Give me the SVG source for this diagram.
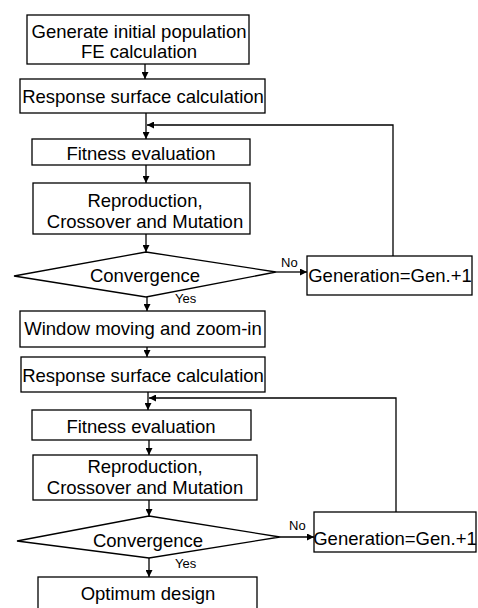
<svg xmlns="http://www.w3.org/2000/svg" width="478" height="608" viewBox="0 0 478 608">
<style>
.b{fill:#fff;stroke:#000;stroke-width:1.3}
.t{font-family:"Liberation Sans",Arial,sans-serif;font-size:18.5px;fill:#000;text-anchor:middle}
.s{font-family:"Liberation Sans",Arial,sans-serif;font-size:13px;fill:#000}
.c{fill:none;stroke:#000;stroke-width:1.3}
</style>
<defs>
<marker id="a" viewBox="0 0 10 10" refX="10" refY="5" markerWidth="7" markerHeight="7" markerUnits="userSpaceOnUse" orient="auto"><path d="M0,0L10,5L0,10z" fill="#000"/></marker>
</defs>
<rect width="478" height="608" fill="#fff"/>
<g id="connectors">
<line class="c" x1="145" y1="64" x2="145" y2="79" marker-end="url(#a)"/>
<line class="c" x1="146" y1="113" x2="146" y2="139" marker-end="url(#a)"/>
<polyline class="c" points="393,256 393,125 147,125" marker-end="url(#a)"/>
<line class="c" x1="146" y1="165" x2="146" y2="183" marker-end="url(#a)"/>
<line class="c" x1="146" y1="234" x2="146" y2="252" marker-end="url(#a)"/>
<line class="c" x1="276" y1="272" x2="307" y2="272" marker-end="url(#a)"/>
<line class="c" x1="147" y1="297" x2="147" y2="311" marker-end="url(#a)"/>
<line class="c" x1="147" y1="347" x2="147" y2="357" marker-end="url(#a)"/>
<line class="c" x1="148" y1="392" x2="148" y2="410" marker-end="url(#a)"/>
<polyline class="c" points="396,512 396,398 149,398" marker-end="url(#a)"/>
<line class="c" x1="149" y1="440" x2="149" y2="455" marker-end="url(#a)"/>
<line class="c" x1="149" y1="500" x2="149" y2="516" marker-end="url(#a)"/>
<line class="c" x1="280" y1="537" x2="314" y2="537" marker-end="url(#a)"/>
<line class="c" x1="149" y1="558" x2="149" y2="577" marker-end="url(#a)"/>
<text class="s" x="281" y="267">No</text>
<text class="s" x="175" y="303">Yes</text>
<text class="s" x="289" y="530">No</text>
<text class="s" x="175" y="568">Yes</text>
</g>
<g id="n1"><rect class="b" x="27" y="15" width="222" height="49"/><text class="t" x="139" y="38">Generate initial population</text><text class="t" x="139" y="58">FE calculation</text></g>
<g id="n2"><rect class="b" x="20" y="79" width="245" height="34"/><text class="t" x="143" y="103">Response surface calculation</text></g>
<g id="n3"><rect class="b" x="32" y="139" width="218" height="26"/><text class="t" x="141" y="160">Fitness evaluation</text></g>
<g id="n4"><rect class="b" x="33" y="183" width="217" height="51"/><text class="t" x="145" y="207">Reproduction,</text><text class="t" x="145" y="228">Crossover and Mutation</text></g>
<g id="n5"><polygon class="b" points="146,252 276,272 146,297 14,276"/><text class="t" x="145" y="282">Convergence</text></g>
<g id="n6"><rect class="b" x="307" y="256" width="165" height="39"/><text class="t" x="390" y="282">Generation=Gen.+1</text></g>
<g id="n7"><rect class="b" x="20" y="311" width="245" height="36"/><text class="t" x="143" y="335">Window moving and zoom-in</text></g>
<g id="n8"><rect class="b" x="21" y="357" width="244" height="35"/><text class="t" x="143" y="382">Response surface calculation</text></g>
<g id="n9"><rect class="b" x="32" y="410" width="219" height="30"/><text class="t" x="141" y="433">Fitness evaluation</text></g>
<g id="n10"><rect class="b" x="33" y="455" width="224" height="45"/><text class="t" x="145" y="473">Reproduction,</text><text class="t" x="145" y="494">Crossover and Mutation</text></g>
<g id="n11"><polygon class="b" points="149,516 280,537 149,558 17,541"/><text class="t" x="148" y="547">Convergence</text></g>
<g id="n12"><rect class="b" x="314" y="512" width="162" height="40"/><text class="t" x="395" y="545">Generation=Gen.+1</text></g>
<g id="n13"><rect class="b" x="38" y="577" width="219" height="40"/><text class="t" x="148" y="600">Optimum design</text></g>
</svg>
